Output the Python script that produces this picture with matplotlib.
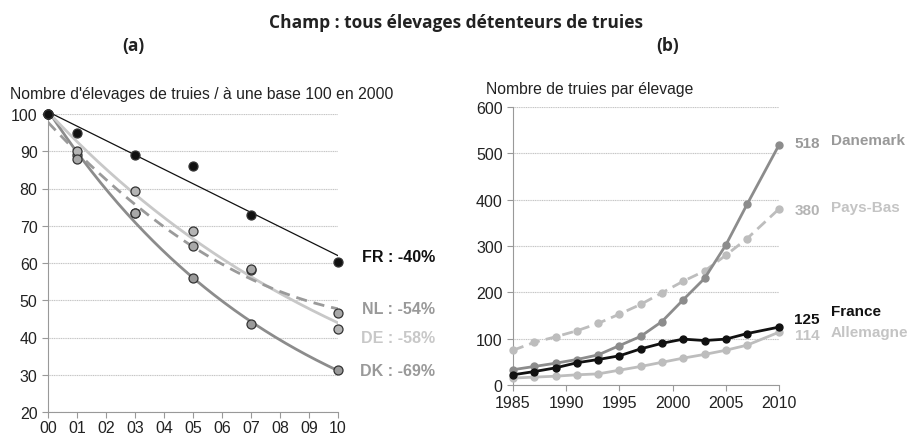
import numpy as np
import matplotlib
matplotlib.use("Agg")
import matplotlib.pyplot as plt

plt.rcParams['font.family'] = ['Liberation Sans', 'DejaVu Sans']

# ---- Panel (a) data ----
years_a = [0, 1, 3, 5, 7, 10]
xtick_labels_a = ["00", "01", "02", "03", "04", "05", "06", "07", "08", "09", "10"]
fr_a = [100, 95, 89, 86, 73, 60.2]
nl_a = [100, 88, 73.5, 64.5, 58.5, 46.5]
de_a = [100, 90, 79.2, 68.5, 58.2, 42.3]
dk_a = [100, 89, 73.3, 56, 43.5, 31.2]
labels_a = ["FR : -40%", "NL : -54%", "DE : -58%", "DK : -69%"]

# ---- Panel (b) data ----
years_b = [1985, 1987, 1989, 1991, 1993, 1995, 1997, 1999, 2001, 2003, 2005, 2007, 2010]
danemark = [33, 40, 47, 55, 65, 85, 105, 137, 184, 230, 302, 390, 518]
paysbas = [75, 92, 104, 117, 133, 153, 174, 199, 224, 246, 280, 316, 380]
france = [22, 29, 37, 48, 55, 63, 78, 90, 99, 96, 99, 111, 125]
allemagne = [15, 17, 19, 22, 24, 32, 40, 49, 58, 66, 75, 86, 114]
names_b = ["Danemark", "Pays-Bas", "France", "Allemagne"]

fig = plt.figure(figsize=(9.12, 4.35), dpi=100)

fig.text(0.5, 0.948, "Champ : tous élevages détenteurs de truies", ha='center', va='center',
         fontsize=12.5, fontweight='bold', family=['Open Sans', 'DejaVu Sans'], color='#222222')
fig.text(133/912, 1-46/435, "(a)", ha='center', va='center', fontsize=12.5, fontweight='bold',
         family=['Open Sans', 'DejaVu Sans'], color='#222222')
fig.text(668/912, 1-46/435, "(b)", ha='center', va='center', fontsize=12.5, fontweight='bold',
         family=['Open Sans', 'DejaVu Sans'], color='#222222')

# ---------------- Panel (a) ----------------
axa = fig.add_axes([48/912, 22/435, 290/912, 298/435])
xa = np.array(years_a, dtype=float)
xs = np.linspace(0, 10, 200)

def expfit(y):
    c = np.polyfit(xa, np.log(np.array(y, dtype=float)), 1)
    return np.exp(np.polyval(c, xs))

c_fr = np.polyfit(xa, fr_a, 1)
c_nl = np.polyfit(xa, nl_a, 2)
trend_fr = np.polyval(c_fr, xs)
trend_nl = np.polyval(c_nl, xs)
trend_de = expfit(de_a)
trend_dk = expfit(dk_a)

axa.plot(xs, trend_dk, color='#8c8c8c', lw=2.0, zorder=3)
axa.plot(xs, trend_de, color='#c8c8c8', lw=2.0, zorder=3)
axa.plot(xs, trend_nl, color='#9a9a9a', lw=2.0, ls=(0, (4, 2.5)), zorder=3)
axa.plot(xs, trend_fr, color='#111111', lw=0.9, zorder=3)

mk = dict(marker='o', ls='none', ms=6.5, mec='#333333', mew=0.9, clip_on=False, zorder=5)
axa.plot(xa, dk_a, mfc='#9a9a9a', **mk)
axa.plot(xa, de_a, mfc='#b4b4b4', **mk)
axa.plot(xa, nl_a, mfc='#a8a8a8', **mk)
axa.plot(xa, fr_a, mfc='#111111', **mk)

axa.set_xlim(0, 10)
axa.set_ylim(20, 100)
axa.set_xticks(range(11))
axa.set_xticklabels(xtick_labels_a)
axa.set_yticks(range(20, 101, 10))
axa.grid(axis='y', color='#c4c4c4', lw=0.8, ls=(0, (1, 0.6)))
axa.set_axisbelow(True)
for s in ['top', 'right']:
    axa.spines[s].set_visible(False)
for s in ['left', 'bottom']:
    axa.spines[s].set_color('#999999')
axa.tick_params(axis='both', colors='#999999', labelcolor='#222222', labelsize=11.5, length=4, width=0.8)
axa.tick_params(axis='x', pad=1.5)
axa.text(-0.13, 1.07, "Nombre d'élevages de truies / à une base 100 en 2000", transform=axa.transAxes,
         ha='left', va='center', fontsize=11.3, color='#222222')

lab_x = 435/912
lab_cols = ['#111111', '#999999', '#c8c8c8', '#999999']
lab_y = [257, 310, 339, 372]
for t, c, y in zip(labels_a, lab_cols, lab_y):
    fig.text(lab_x, 1-y/435, t, ha='right', va='center', fontsize=11.5, fontweight='bold', color=c)

# ---------------- Panel (b) ----------------
axb = fig.add_axes([513/912, 49/435, 266/912, 278/435])
axb.plot(years_b, paysbas, color='#bdbdbd', lw=2.0, ls=(0, (4, 2.2)), marker='o', ms=5, zorder=3, clip_on=False)
axb.plot(years_b, allemagne, color='#bdbdbd', lw=2.0, marker='o', ms=5, zorder=3, clip_on=False)
axb.plot(years_b, danemark, color='#8c8c8c', lw=2.0, marker='o', ms=5, zorder=4, clip_on=False)
axb.plot(years_b, france, color='#111111', lw=2.0, marker='o', ms=5, zorder=5, clip_on=False)

axb.set_xlim(1985, 2010)
axb.set_ylim(0, 600)
axb.set_xticks(range(1985, 2011, 5))
axb.set_yticks(range(0, 601, 100))
axb.grid(axis='y', color='#c4c4c4', lw=0.8, ls=(0, (1, 0.6)))
axb.set_axisbelow(True)
for s in ['top', 'right']:
    axb.spines[s].set_visible(False)
for s in ['left', 'bottom']:
    axb.spines[s].set_color('#999999')
axb.tick_params(axis='both', colors='#999999', labelcolor='#222222', labelsize=11.5, length=4, width=0.8)
axb.text(-0.10, 1.065, "Nombre de truies par élevage", transform=axb.transAxes,
         ha='left', va='center', fontsize=11.3, color='#222222')

ends = [danemark[-1], paysbas[-1], france[-1], allemagne[-1]]
val_cols = ['#999999', '#b4b4b4', '#111111', '#c4c4c4']
name_cols = ['#999999', '#c4c4c4', '#111111', '#c4c4c4']
val_y = [144, 211, 320, 336]
name_y = [141, 208, 312, 333]
for v, n, vc, nc, vy, ny in zip(ends, names_b, val_cols, name_cols, val_y, name_y):
    fig.text(807/912, 1-vy/435, str(v), ha='center', va='center', fontsize=11, fontweight='bold', color=vc)
    fig.text(831/912, 1-ny/435, n, ha='left', va='center', fontsize=11, fontweight='bold', color=nc)

fig.savefig("out.png", dpi=100)
